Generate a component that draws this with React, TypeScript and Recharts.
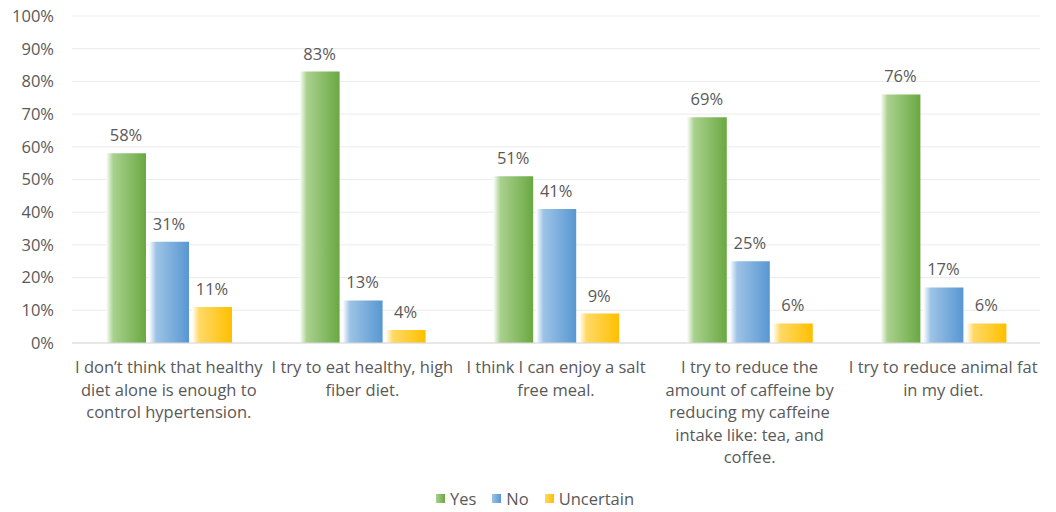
import { BarChart, Bar, XAxis, YAxis, CartesianGrid, LabelList, Legend } from 'recharts'

// Category labels, already broken into lines as in the original chart
const categories = [
  "I don\u2019t think that healthy\ndiet alone is enough to\ncontrol hypertension.",
  "I try to eat healthy, high\nfiber diet.",
  "I think I can enjoy a salt\nfree meal.",
  "I try to reduce the\namount of caffeine by\nreducing my caffeine\nintake like: tea, and\ncoffee.",
  "I try to reduce animal fat\nin my diet.",
]

const yesValues = [58, 83, 51, 69, 76]
const noValues = [31, 13, 41, 25, 17]
const uncertainValues = [11, 4, 9, 6, 6]

const yTicks = [0, 10, 20, 30, 40, 50, 60, 70, 80, 90, 100]

const series = [
  { key: 'yes', name: 'Yes', light: '#a9d18e', dark: '#6aa842' },
  { key: 'no', name: 'No', light: '#9dc3e6', dark: '#5897d2' },
  { key: 'uncertain', name: 'Uncertain', light: '#ffd966', dark: '#ffbf00' },
]

const data = categories.map((name, i) => ({
  name,
  yes: yesValues[i],
  no: noValues[i],
  uncertain: uncertainValues[i],
}))

const FONT = '"Open Sans", "Liberation Sans", sans-serif'
const TEXT = '#595959'

const CategoryTick = ({ x, y, payload }: any) => {
  const lines = String(payload.value).split('\n')
  return (
    <text x={x} y={y} textAnchor="middle" fill={TEXT} fontSize={16.5} fontFamily={FONT}>
      {lines.map((line, i) => (
        <tspan key={i} x={x} dy={i === 0 ? 22 : 22.5}>
          {line}
        </tspan>
      ))}
    </text>
  )
}

const LegendContent = () => (
  <div
    style={{
      display: 'flex',
      justifyContent: 'center',
      gap: 16,
      marginTop: 11,
      paddingLeft: 30,
      fontFamily: FONT,
      fontSize: 16.5,
      color: TEXT,
    }}
  >
    {series.map(s => (
      <div key={s.key} style={{ display: 'flex', alignItems: 'center' }}>
        <span
          style={{
            width: 9,
            height: 9,
            marginRight: 5,
            background: `linear-gradient(to right, ${s.light}, ${s.dark})`,
          }}
        />
        {s.name}
      </div>
    ))}
  </div>
)

export default function App() {
  return (
    <div style={{ position: 'absolute', left: 0, top: 0, width: 1056, height: 512, background: '#fff' }}>
      <BarChart
        width={1056}
        height={512}
        data={data}
        margin={{ top: 16, right: 16, left: 0, bottom: 6 }}
        barCategoryGap={34}
        barGap={3}
      >
        <defs>
          {series.map(s => (
            <linearGradient key={s.key} id={`grad-${s.key}`} x1="0" y1="0" x2="1" y2="0">
              <stop offset="0%" stopColor="#ffffff" />
              <stop offset="18%" stopColor={s.light} />
              <stop offset="100%" stopColor={s.dark} />
            </linearGradient>
          ))}
        </defs>
        <CartesianGrid vertical={false} stroke="#ebebeb" />
        <XAxis
          dataKey="name"
          interval={0}
          height={133}
          tickLine={false}
          axisLine={{ stroke: '#d9d9d9' }}
          tick={<CategoryTick />}
        />
        <YAxis
          width={72}
          domain={[0, 100]}
          ticks={yTicks}
          tickFormatter={v => `${v}%`}
          axisLine={false}
          tickLine={false}
          tickMargin={12}
          tick={{ fill: TEXT, fontSize: 16.5, fontFamily: FONT }}
        />
        <Legend verticalAlign="bottom" height={30} content={<LegendContent />} />
        {series.map(s => (
          <Bar key={s.key} dataKey={s.key} name={s.name} fill={`url(#grad-${s.key})`} isAnimationActive={false}>
            <LabelList
              dataKey={s.key}
              position="top"
              offset={12}
              formatter={(v: any) => `${v}%`}
              fill={TEXT}
              fontSize={16.5}
              fontFamily={FONT}
            />
          </Bar>
        ))}
      </BarChart>
    </div>
  )
}
